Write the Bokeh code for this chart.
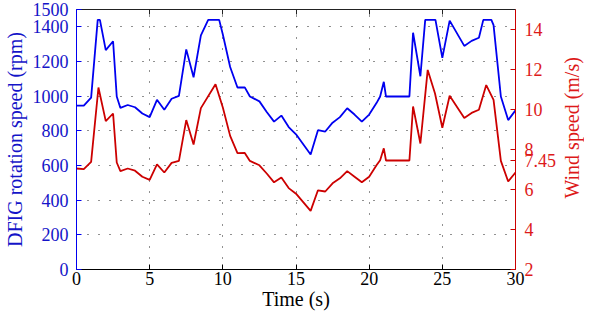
import math
from bokeh.plotting import figure
from bokeh.layouts import row
from bokeh.models import Range1d, LinearAxis, FixedTicker, CustomJSTickFormatter
from bokeh.core.properties import value
from bokeh.embed import file_html
from bokeh.resources import INLINE

# Rotation speed (rpm) vertices
t_rpm = [0, 0.5, 1.0, 1.45, 1.6, 2.0, 2.5, 2.75, 3.0, 3.5, 4.0, 4.5, 5.0, 5.5, 6.0,
         6.5, 7.0, 7.5, 8.0, 8.5, 9.0, 9.75, 10.0, 10.5, 11.0, 11.5, 11.85, 12.5,
         13.0, 13.5, 14.0, 14.5, 15.0, 16.0, 16.5, 17.0, 17.5, 18.0, 18.5, 19.0,
         19.5, 20.0, 20.5, 20.75, 21.0, 21.15, 22.75, 23.0, 23.5, 23.83, 24.53,
         25.0, 25.5, 26.5, 27.0, 27.5, 27.8, 28.35, 28.5, 29.0, 29.5, 30.0]
rpm = [945, 945, 992, 1440, 1440, 1266, 1317, 998, 932, 949, 936, 900, 879, 979, 922,
       985, 1002, 1270, 1109, 1351, 1440, 1440, 1356, 1168, 1050, 1051, 998, 970,
       909, 853, 888, 822, 780, 664, 804, 796, 847, 879, 930, 894,
       853, 894, 960, 998, 1083, 998, 998, 1366, 1115, 1440, 1440,
       1221, 1436, 1290, 1319, 1337, 1440, 1440, 1410, 998, 862, 918]

# Wind speed (m/s) vertices
t_wind = [0, 0.5, 1.0, 1.5, 2.0, 2.5, 2.75, 3.0, 3.5, 4.0, 4.5, 5.0, 5.5, 6.0, 6.5,
          7.0, 7.5, 8.0, 8.5, 9.5, 10.0, 10.5, 11.0, 11.5, 11.85, 12.5, 13.0, 13.5,
          14.0, 14.5, 15.0, 16.0, 16.5, 17.0, 17.5, 18.0, 18.5, 19.0, 19.5, 20.0,
          20.5, 20.75, 21.0, 21.15, 22.75, 23.0, 23.5, 24.0, 24.5, 25.0, 25.5,
          26.5, 27.0, 27.5, 28.0, 28.5, 29.0, 29.5, 30.0]
wind = [7.05, 7.02, 7.38, 11.1, 9.42, 9.8, 7.35, 6.92, 7.05, 6.94, 6.64, 6.48, 7.26, 6.85, 7.33,
        7.43, 9.47, 8.25, 10.07, 11.26, 10.1, 8.68, 7.82, 7.83, 7.43, 7.21, 6.8, 6.36,
        6.6, 6.07, 5.79, 4.93, 5.96, 5.9, 6.31, 6.56, 6.92, 6.64, 6.36, 6.64,
        7.21, 7.46, 8.06, 7.45, 7.45, 10.15, 8.3, 11.98, 10.8, 9.09, 10.69,
        9.58, 9.83, 9.99, 11.22, 10.48, 7.43, 6.4, 6.85]

x_ticks = [0, 5, 10, 15, 20, 25, 30]
rpm_ticks = [0, 200, 400, 600, 800, 1000, 1200, 1400, 1500]
rpm_grid = [0, 200, 400, 600, 800, 1000, 1200, 1400]
wind_ticks = [2, 4, 6, 7.45, 8, 10, 12, 14]
right_title = "Wind speed (m/s)"

FONT = "Liberation Serif"
BLUE = "#0000f0"
BLUE_TXT = "#1414c8"
RED = "#cc0000"
RED_TXT = "#dd1a1a"

p = figure(width=559, height=312, output_backend="svg", toolbar_location=None,
           x_range=Range1d(0, 30), y_range=Range1d(0, 1500),
           min_border_top=9, min_border_left=0, min_border_right=0, min_border_bottom=0)
p.outline_line_color = None
p.background_fill_color = "white"
p.border_fill_color = "white"

p.extra_y_ranges = {"wind": Range1d(2, 15)}

p.line(t_rpm, rpm, line_color=BLUE, line_width=1.8)
p.line(t_wind, wind, line_color=RED, line_width=1.8, y_range_name="wind")

# grids
p.xgrid.ticker = FixedTicker(ticks=x_ticks)
p.ygrid.ticker = FixedTicker(ticks=rpm_grid)
for g in (p.xgrid, p.ygrid):
    g.grid_line_color = "#222222"
    g.grid_line_dash = "1 10"
    g.grid_line_width = 1

def style(ax, color, txtcolor):
    ax.axis_line_color = color
    ax.major_tick_line_color = color
    ax.major_tick_in = 5
    ax.major_tick_out = 0
    ax.minor_tick_line_color = None
    ax.major_label_text_color = txtcolor
    ax.major_label_text_font = FONT
    ax.major_label_text_font_size = "18px"
    ax.axis_label_text_color = txtcolor
    ax.axis_label_text_font = FONT
    ax.axis_label_text_font_size = "20px"
    ax.axis_label_text_font_style = "normal"

xa = p.xaxis[0]
style(xa, "#000000", "#000000")
xa.ticker = FixedTicker(ticks=x_ticks)
xa.axis_label = "Time (s)"
xa.major_label_standoff = 2
xa.axis_label_standoff = 0

ya = p.yaxis[0]
style(ya, BLUE, BLUE_TXT)
ya.ticker = FixedTicker(ticks=rpm_ticks)
ya.axis_label = "DFIG rotation speed (rpm)"
ya.major_label_standoff = 8
ya.axis_label_standoff = 4

ra = LinearAxis(y_range_name="wind")
style(ra, RED, RED_TXT)
ra.ticker = FixedTicker(ticks=wind_ticks)
ra.formatter = CustomJSTickFormatter(code="return tick.toString();")
ra.major_label_standoff = 9
p.add_layout(ra, "right")

ta = LinearAxis()
style(ta, "#222222", "#000000")
ta.ticker = FixedTicker(ticks=x_ticks)
ta.major_label_text_font_size = "0px"
ta.major_label_text_color = None
ta.major_label_standoff = 0
p.add_layout(ta, "above")

# narrow companion panel holding the right-axis title, reading bottom-to-top
p2 = figure(width=25, height=312, output_backend="svg", toolbar_location=None,
            x_range=Range1d(0, 25), y_range=Range1d(0, 312),
            x_axis_type=None, y_axis_type=None,
            min_border_top=0, min_border_left=0, min_border_right=0, min_border_bottom=0)
p2.outline_line_color = None
p2.grid.visible = False
p2.background_fill_color = "white"
p2.border_fill_color = "white"
p2.text(x=[12.5], y=[170], text=[right_title], angle=math.pi / 2,
        text_align="center", text_baseline="middle",
        text_font=value(FONT), text_font_size="20px", text_color=RED_TXT)

layout = row(p, p2)
open("out.html", "w").write(file_html(layout, INLINE))
